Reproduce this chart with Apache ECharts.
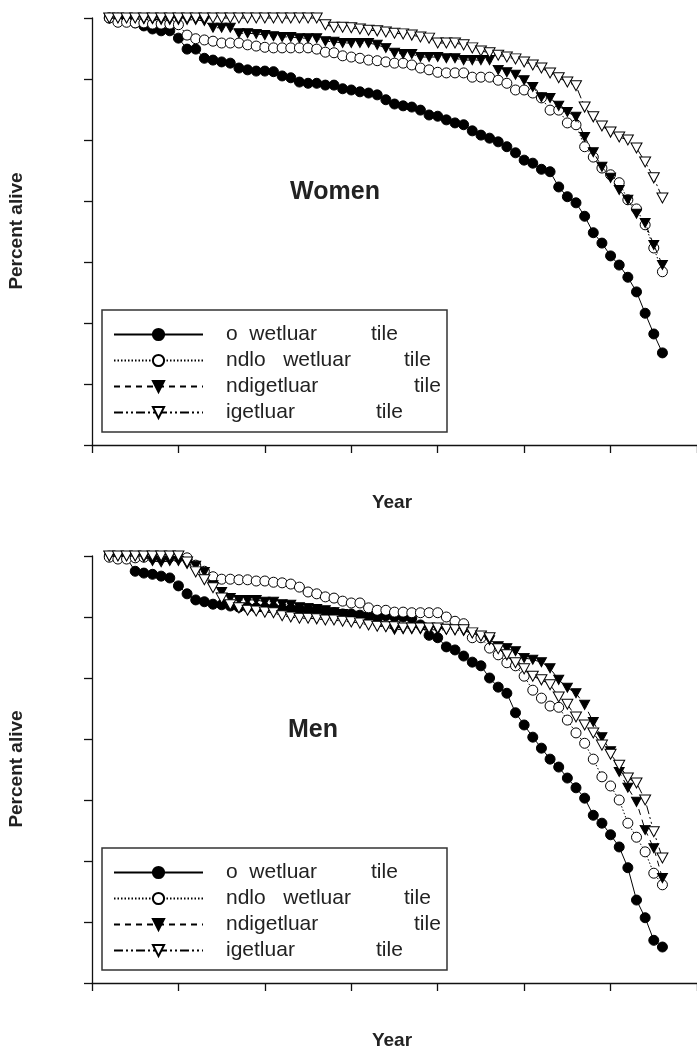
<!DOCTYPE html>
<html><head><meta charset="utf-8">
<script src="https://cdn.jsdelivr.net/npm/echarts@6/dist/echarts.min.js"></script>
<style>html,body{margin:0;padding:0;background:#fff}#c{width:697px;height:1049px}</style>
</head><body><div id="c"></div>
<script>
// x positions (axis units, one tick = 1)
const xs = [0.2,0.3,0.4,0.5,0.6,0.7,0.8,0.9,1.0,1.1,1.2,1.3,1.4,1.5,1.6,1.7,1.8,1.9,2.0,2.1,2.2,2.3,2.4,2.5,2.6,2.7,2.8,2.9,3.0,3.1,3.2,3.3,3.4,3.5,3.6,3.7,3.8,3.9,4.0,4.1,4.2,4.3,4.4,4.5,4.6,4.7,4.8,4.9,5.0,5.1,5.2,5.3,5.4,5.5,5.6,5.7,5.8,5.9,6.0,6.1,6.2,6.3,6.4,6.5,6.6];

// Women
const wLow = [100,100,99.8,99.2,98.7,98.2,97.9,97.9,96.7,94.9,94.9,93.4,93.1,92.8,92.6,91.8,91.5,91.3,91.3,91.2,90.5,90.2,89.5,89.3,89.3,89.0,89.0,88.4,88.2,87.9,87.7,87.4,86.6,85.9,85.6,85.4,84.9,84.1,83.9,83.3,82.8,82.5,81.5,80.8,80.3,79.7,78.9,77.9,76.7,76.2,75.2,74.8,72.3,70.7,69.7,67.5,64.8,63.1,61.0,59.5,57.5,55.1,51.6,48.2,45.1];
const wMidLow = [100,99.3,99.3,99.2,99.2,99.0,99.0,99.0,98.9,97.2,96.6,96.4,96.2,95.9,95.9,95.9,95.6,95.4,95.2,95.1,95.1,95.1,95.1,95.1,94.9,94.4,94.3,93.8,93.6,93.4,93.1,93.0,92.8,92.6,92.6,92.3,91.8,91.5,91.1,91.0,91.0,91.0,90.3,90.3,90.3,89.8,89.3,88.2,88.2,87.7,86.9,84.9,84.9,82.8,82.5,78.9,77.2,75.4,74.3,73.0,70.2,68.7,66.1,62.3,58.4];
const wMidHigh = [100,100,100,100,99.8,99.8,99.7,99.7,99.7,99.7,99.7,99.5,98.4,98.4,98.4,97.5,97.5,97.4,97.2,97.0,96.9,96.9,96.7,96.7,96.7,96.2,96.1,95.9,95.9,95.9,95.9,95.6,95.1,94.3,94.1,94.1,93.6,93.6,93.6,93.4,93.4,93.1,93.1,93.1,93.1,91.5,91.1,90.7,89.8,88.7,87.0,86.9,85.6,84.6,83.8,80.5,78.0,75.6,73.8,71.8,70.2,67.9,66.4,62.8,59.5];
const wHigh = [100,100,100,100,100,100,100,100,100,100,100,100,100,100,100,100,100,100,100,100,100,100,100,100,100,98.9,98.5,98.5,98.4,98.2,98.0,97.9,97.7,97.5,97.4,97.2,96.9,96.7,95.9,95.9,95.9,95.6,95.1,94.6,94.3,93.9,93.6,93.3,92.8,92.3,91.8,91.0,90.2,89.5,88.9,85.4,83.8,82.3,81.3,80.5,80.0,78.7,76.4,73.8,70.5];

// Men
const mLow = [100,99.8,99.7,97.5,97.2,97.0,96.7,96.4,95.1,93.8,92.8,92.5,92.1,92.0,91.8,91.6,91.6,91.5,91.5,91.5,91.3,91.3,91.3,91.1,91.1,90.8,90.7,90.5,90.5,90.3,90.3,90.2,90.2,90.0,90.0,89.8,88.7,87.0,86.6,85.1,84.6,83.6,82.6,82.0,80.0,78.5,77.5,74.3,72.3,70.3,68.5,66.7,65.4,63.6,62.0,60.3,57.5,56.2,54.3,52.3,48.9,43.6,40.7,37.0,35.9];
const mMidLow = [99.8,99.5,99.5,99.7,99.8,99.8,99.8,99.8,99.8,99.7,98.5,97.5,96.6,96.2,96.2,96.1,96.1,95.9,95.9,95.7,95.6,95.4,94.9,94.1,93.8,93.3,93.1,92.6,92.3,92.3,91.5,91.1,91.1,90.8,90.8,90.7,90.7,90.7,90.7,90.0,89.3,88.9,86.6,86.6,84.9,83.8,82.5,82.0,80.3,78.0,76.7,75.4,75.2,73.1,71.0,69.3,66.7,63.8,62.3,60.0,56.2,53.9,51.5,48.0,46.1];
const mMidHigh = [100,100,100,100,99.8,99.2,99.0,99.2,99.2,98.7,98.4,97.4,95.2,94.1,93.1,92.8,92.8,92.8,92.5,92.5,92.1,92.0,91.6,91.5,91.3,91.1,90.8,90.5,90.2,89.8,89.3,88.9,88.4,87.9,88.0,88.0,88.0,87.9,87.9,87.9,87.9,87.7,87.4,86.9,86.2,85.2,84.9,84.4,83.3,83.0,82.6,81.6,79.7,78.4,77.5,75.6,72.8,70.3,68.0,64.6,62.0,59.7,55.1,52.1,47.2];
const mHigh = [100,100,100,100,100,100,100,100,100,99.0,97.4,96.1,94.8,93.1,92.0,91.5,91.1,91.0,90.8,90.7,90.2,90.0,89.8,89.8,89.7,89.5,89.5,89.3,89.2,89.0,88.7,88.5,88.4,88.4,88.2,88.2,88.2,88.2,88.2,88.0,87.9,87.9,87.4,86.9,86.6,84.8,83.8,82.5,81.5,80.3,79.7,78.9,76.9,75.7,73.6,72.3,71.0,69.0,67.5,65.7,63.6,62.8,60.0,54.8,50.5];

// Legend labels (as printed) and the trailing word
const names = ['o  wetluar','ndlo   wetluar','ndigetluar','igetluar'];
const tailWord = 'tile';
const panelTitles = ['Women','Men'];
const yTitle = 'Percent alive';
const xTitle = 'Year';

const FONT = '"Liberation Sans", Arial, Helvetica, sans-serif';
const DOWN_TRI = 'path://M0,0L10,0L5,9Z';
const styles = [
  {symbol:'circle', size:10, fill:'#000', dash:'solid'},
  {symbol:'circle', size:10, fill:'#fff', dash:[1.5,2]},
  {symbol:DOWN_TRI, size:[10,9], fill:'#000', dash:[6,5]},
  {symbol:DOWN_TRI, size:[11,10], fill:'#fff', dash:[9,3,2,3,2,3]}
];
const tailOffsets = [145,178,188,150];

const chart = echarts.init(document.getElementById('c'), null, {renderer:'canvas'});
function pairs(ys){ return xs.map((x,i)=>[x, ys[i]]); }

const panels = [[wLow,wMidLow,wMidHigh,wHigh],[mLow,mMidLow,mMidHigh,mHigh]];
const tops = [18,556];
const series = [];
panels.forEach((arrs,g)=>{
  arrs.forEach((arr,k)=>{
    const st = styles[k];
    series.push({
      type:'line', name:names[k], xAxisIndex:g, yAxisIndex:g,
      data:pairs(arr), symbol:st.symbol, symbolSize:st.size, showSymbol:true,
      clip:false,
      lineStyle:{color:'#000', width:1, type:st.dash},
      itemStyle:{color:st.fill, borderColor:'#000', borderWidth:1},
      emphasis:{disabled:true}, z:2+k
    });
  });
});

const axisLine = {show:true, onZero:false, lineStyle:{color:'#111', width:1.3}};
const axisTick = {show:true, inside:false, length:8, lineStyle:{color:'#111', width:1.3}};
const FS = 21;
const rich = {s:{width:18, fontSize:FS, fontFamily:FONT}, b:{fontSize:FS, fontFamily:FONT, color:'#222'}};
names.forEach((n,i)=>{ rich['a'+i] = {width:tailOffsets[i], fontSize:FS, fontFamily:FONT, color:'#222'}; });

function legendFor(top){
  return {
    orient:'vertical', left:113, top:top, itemWidth:89, itemHeight:14, itemGap:5, padding:0,
    data:names, selectedMode:false,
    textStyle:{fontFamily:FONT, fontSize:FS, color:'#222', rich:rich},
    formatter:function(name){ const i = names.indexOf(name); return '{s| }{a'+i+'|'+name+'}{b|'+tailWord+'}'; }
  };
}

const graphic = [];
tops.forEach((t,g)=>{
  graphic.push({type:'rect', shape:{x:102, y:t+292, width:345, height:122}, style:{fill:'none', stroke:'#333', lineWidth:1.5}, z:1});
  graphic.push({type:'text', x:g===0?335:313, y:t+174, style:{text:panelTitles[g], font:'bold 25px '+FONT, fill:'#222', textAlign:'center', textVerticalAlign:'middle'}});
  graphic.push({type:'text', x:17, y:t+213, rotation:Math.PI/2, style:{text:yTitle, font:'bold 19px '+FONT, fill:'#222', textAlign:'center', textVerticalAlign:'middle'}});
  graphic.push({type:'text', x:392, y:t+485, style:{text:xTitle, font:'bold 19px '+FONT, fill:'#222', textAlign:'center', textVerticalAlign:'middle'}});
});

chart.setOption({
  animation:false,
  backgroundColor:'#fff',
  grid:tops.map(t=>({left:92, top:t, width:610.4, height:427})),
  xAxis:[0,1].map(g=>({type:'value', gridIndex:g, min:0, max:7, interval:1, axisLine, axisTick, axisLabel:{show:false}, splitLine:{show:false}})),
  yAxis:[0,1].map(g=>({type:'value', gridIndex:g, min:30, max:100, interval:10, axisLine, axisTick, axisLabel:{show:false}, splitLine:{show:false}})),
  legend:[legendFor(324), legendFor(862)],
  graphic:graphic,
  series:series
});
</script></body></html>
